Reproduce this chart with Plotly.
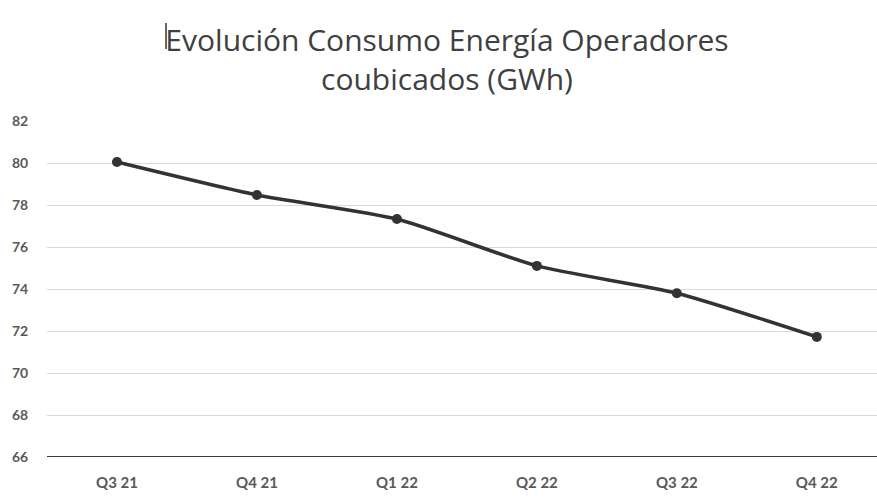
import plotly.graph_objects as go

quarters = ["Q3 21", "Q4 21", "Q1 22", "Q2 22", "Q3 22", "Q4 22"]
consumo_gwh = [80.05, 78.48, 77.33, 75.1, 73.8, 71.72]
y_ticks = [66, 68, 70, 72, 74, 76, 78, 80, 82]

fig = go.Figure()
fig.add_trace(go.Scatter(
    x=quarters, y=consumo_gwh, mode="lines+markers",
    line=dict(color="#333333", width=3.5, shape="spline", smoothing=0.6),
    marker=dict(color="#333333", size=10),
    showlegend=False,
))

fig.update_layout(
    width=877, height=498,
    margin=dict(l=47, r=0, t=121, b=41, autoexpand=False),
    paper_bgcolor="white", plot_bgcolor="white",
    title=dict(
        text="Evolución Consumo Energía Operadores<br>coubicados (GWh)",
        x=447/877, xanchor="center", y=1 - 51/498, yanchor="middle",
        font=dict(family="Open Sans", size=30, color="#404040"),
    ),
    xaxis=dict(
        type="category", range=[-0.5, 5.43],
        showgrid=False, showline=False, zeroline=False,
        ticks="outside", ticklen=12, tickcolor="rgba(0,0,0,0)",
        tickfont=dict(family="Lato", size=15, color="#595959", weight="bold"),
        fixedrange=True, automargin=False,
    ),
    yaxis=dict(
        range=[66, 82], tickvals=y_ticks,
        showgrid=True, gridcolor="#d9d9d9", gridwidth=1.2,
        zeroline=False, showline=False,
        ticks="outside", ticklen=15, tickcolor="rgba(0,0,0,0)",
        tickfont=dict(family="Lato", size=14, color="#595959", weight="bold"),
        fixedrange=True, automargin=False,
    ),
)
# dark baseline at the bottom of the value axis
fig.add_hline(y=66, line=dict(color="#404040", width=2))
# text-cursor mark just before the title
fig.add_shape(type="line", xref="paper", yref="paper",
              x0=(166 - 47) / 830, x1=(166 - 47) / 830,
              y0=(457 - 49) / 336, y1=(457 - 23) / 336,
              line=dict(color="#333333", width=1.5))

fig.write_html("out.html", config={"displayModeBar": False},
               post_script="document.body.style.margin='0px';")
